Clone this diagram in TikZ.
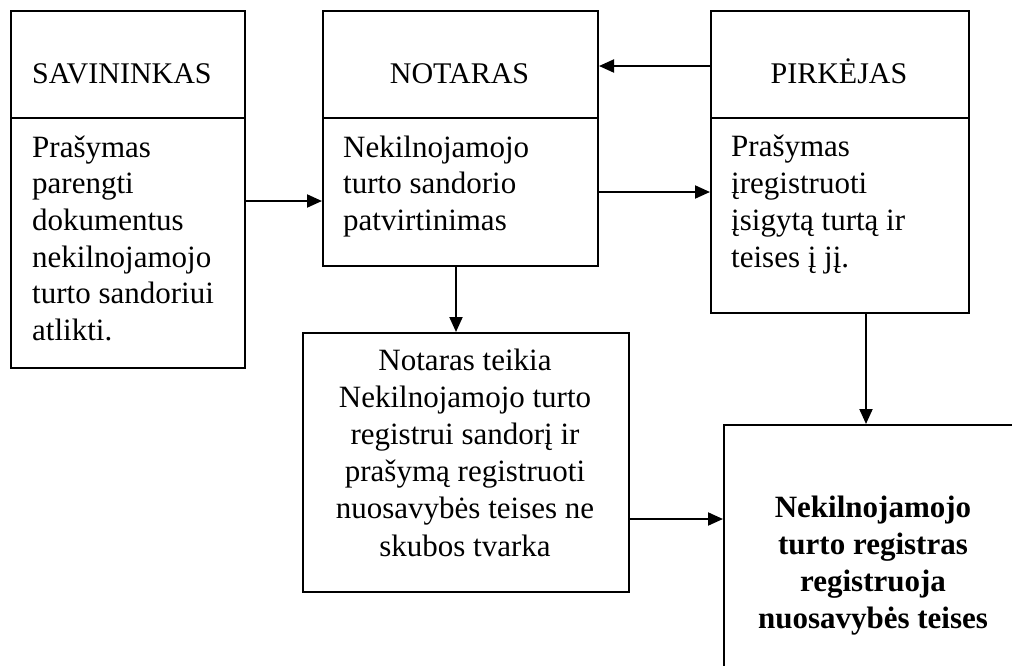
\documentclass[tikz,border=0pt]{standalone}
\usepackage{fontspec}
\setmainfont{Liberation Serif}
\usetikzlibrary{arrows.meta}
\begin{document}
\begin{tikzpicture}[x=1pt,y=-1pt,
  box/.style={draw,line width=2pt,anchor=north west,inner sep=0pt},
  txt/.style={font=\fontsize{31}{36.7}\selectfont,inner sep=0pt},
  hdr/.style={font=\fontsize{30}{36}\selectfont,inner sep=0pt},
  divider/.style={line width=2pt},
  arr/.style={line width=2pt,-{Triangle[length=15pt,width=13pt]}}]
\useasboundingbox (0,0) rectangle (1012,665);
\clip (0,0) rectangle (1012,665);
% boxes
\node[box,minimum width=234pt,minimum height=357pt] (sav) at (10,10) {};
\node[box,minimum width=275pt,minimum height=255pt] (not) at (322,10) {};
\node[box,minimum width=258pt,minimum height=302pt] (pirk) at (710,10) {};
\node[box,minimum width=326pt,minimum height=259pt] (teik) at (302,332) {};
\node[box,minimum width=300pt,minimum height=280pt] (reg) at (723,424) {};
% header dividers
\draw[divider] (sav.west |- 0,118) -- (sav.east |- 0,118);
\draw[divider] (not.west |- 0,118) -- (not.east |- 0,118);
\draw[divider] (pirk.west |- 0,118) -- (pirk.east |- 0,118);
% texts (base anchor = baseline of the last line)
\node[hdr,anchor=base west] (savh) at (32,83) {SAVININKAS};
\node[txt,anchor=base west,align=left] (savb) at (32,340.5) {Prašymas\\parengti\\dokumentus\\nekilnojamojo\\turto sandoriui\\atlikti.};
\node[hdr,anchor=base] (noth) at (459.5,83) {NOTARAS};
\node[txt,anchor=base west,align=left] (notb) at (343,230.4) {Nekilnojamojo\\turto sandorio\\patvirtinimas};
\node[hdr,anchor=base] (pirkh) at (839,83) {PIRKĖJAS};
\node[txt,anchor=base west,align=left] (pirkb) at (731,267) {Prašymas\\įregistruoti\\įsigytą turtą ir\\teises į jį.};
\node[txt,anchor=base,align=center,font=\fontsize{31}{37.2}\selectfont] (teikb) at (465,556) {Notaras teikia\\Nekilnojamojo turto\\registrui sandorį ir\\prašymą registruoti\\nuosavybės teises ne\\skubos tvarka};
\node[txt,anchor=base,align=center,font=\fontsize{31}{37}\selectfont\bfseries] (regb) at (873,628) {Nekilnojamojo\\turto registras\\registruoja\\nuosavybės teises};
% arrows
\draw[arr] (sav.east |- 0,201) -- (not.west |- 0,201);
\draw[arr] (pirk.west |- 0,66) -- (not.east |- 0,66);
\draw[arr] (not.east |- 0,192) -- (pirk.west |- 0,192);
\draw[arr] (not.south -| 456,0) -- (teik.north -| 456,0);
\draw[arr] (pirk.south -| 866,0) -- (reg.north -| 866,0);
\draw[arr] (teik.east |- 0,519) -- (reg.west |- 0,519);
\end{tikzpicture}
\end{document}
